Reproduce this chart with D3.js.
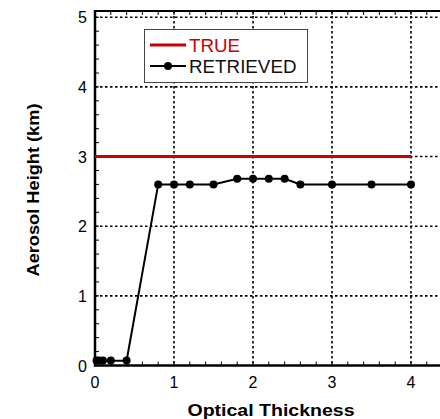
<!DOCTYPE html>
<html>
<head>
<meta charset="utf-8">
<script src="https://cdn.jsdelivr.net/npm/d3@7"></script>
<style>
  body { margin: 0; background: #fff; }
  text { font-family: "Liberation Sans", Arial, sans-serif; }
</style>
</head>
<body>
<div id="chart"></div>
<script>
const WIDTH = 440;
const HEIGHT = 419;
const MARGIN = { top: 11, bottom: 53, left: 95, right: 0 };

// data
const trueX = [0, 4];
const trueY = [3, 3];
const retrievedX = [0.02, 0.05, 0.1, 0.2, 0.4, 0.8, 1.0, 1.2, 1.5, 1.8, 2.0, 2.2, 2.4, 2.6, 3.0, 3.5, 4.0];
const retrievedY = [0.07, 0.07, 0.07, 0.07, 0.07, 2.6, 2.6, 2.6, 2.6, 2.68, 2.68, 2.68, 2.68, 2.6, 2.6, 2.6, 2.6];
const xTicks = [0, 1, 2, 3, 4];
const yTicks = [0, 1, 2, 3, 4, 5];
const legendLabels = ['TRUE', 'RETRIEVED'];

const svg = d3.select('#chart')
  .append('svg')
  .attr('width', WIDTH)
  .attr('height', HEIGHT)

const x = d3.scaleLinear()
  .domain([0, 4.5])
  .range([MARGIN.left, MARGIN.left + 4.5 * 79])

const y = d3.scaleLinear()
  .domain([0, 5.09])
  .range([HEIGHT - MARGIN.bottom - 0.5, MARGIN.top])

const x0 = x(0), x1 = WIDTH + 5
const y0 = y(0), y1 = y(5.09)

// dotted grid
const grid = svg.append('g')
  .attr('stroke', '#000')
  .attr('stroke-width', 1.6)
  .attr('stroke-dasharray', '2.5,2.5')

grid.selectAll('.hg')
  .data(yTicks.filter(d => d > 0))
  .join('line')
  .attr('x1', x0).attr('x2', x1)
  .attr('y1', d => y(d)).attr('y2', d => y(d))

grid.selectAll('.vg')
  .data(xTicks.filter(d => d > 0))
  .join('line')
  .attr('x1', d => x(d)).attr('x2', d => x(d))
  .attr('y1', y1).attr('y2', y0)

// minor ticks (inward)
const minorX = d3.range(0, 4.6, 0.2)
const minorY = d3.range(0, 5.01, 0.2)
const ticks = svg.append('g').attr('stroke', '#000').attr('stroke-width', 1)

ticks.selectAll('.bt')
  .data(minorX)
  .join('line')
  .attr('x1', d => x(d)).attr('x2', d => x(d))
  .attr('y1', y0).attr('y2', y0 - 4)

ticks.selectAll('.tt')
  .data(minorX)
  .join('line')
  .attr('x1', d => x(d)).attr('x2', d => x(d))
  .attr('y1', y1).attr('y2', y1 + 4)

ticks.selectAll('.lt')
  .data(minorY)
  .join('line')
  .attr('x1', x0).attr('x2', x0 + 4)
  .attr('y1', d => y(d)).attr('y2', d => y(d))

// frame
svg.append('line')
  .attr('x1', x0).attr('x2', x1).attr('y1', y1).attr('y2', y1)
  .attr('stroke', '#000').attr('stroke-width', 2)
svg.append('line')
  .attr('x1', x0).attr('x2', x1).attr('y1', y0).attr('y2', y0)
  .attr('stroke', '#000').attr('stroke-width', 2.5)
svg.append('line')
  .attr('x1', x0).attr('x2', x0).attr('y1', y1 - 1).attr('y2', y0 + 1.25)
  .attr('stroke', '#000').attr('stroke-width', 2.5)

// TRUE line
const trueData = trueX.map((d, i) => [d, trueY[i]])
svg.append('path')
  .datum(trueData)
  .attr('fill', 'none')
  .attr('stroke', '#cc0000')
  .attr('stroke-width', 3)
  .attr('d', d3.line().x(d => x(d[0])).y(d => y(d[1])))

// RETRIEVED line + markers
const retData = retrievedX.map((d, i) => [d, retrievedY[i]])
svg.append('path')
  .datum(retData)
  .attr('fill', 'none')
  .attr('stroke', '#000')
  .attr('stroke-width', 2)
  .attr('d', d3.line().x(d => x(d[0])).y(d => y(d[1])))

svg.selectAll('.pt')
  .data(retData)
  .join('circle')
  .attr('cx', d => x(d[0]))
  .attr('cy', d => y(d[1]))
  .attr('r', 4)
  .attr('fill', '#000')

// tick labels
svg.selectAll('.xl')
  .data(xTicks)
  .join('text')
  .attr('x', d => x(d))
  .attr('y', y0 + 22)
  .attr('text-anchor', 'middle')
  .attr('font-size', 16)
  .text(d => d)

svg.selectAll('.yl')
  .data(yTicks)
  .join('text')
  .attr('x', x0 - 8)
  .attr('y', d => y(d) + 6)
  .attr('text-anchor', 'end')
  .attr('font-size', 16)
  .text(d => d)

// axis titles
svg.append('text')
  .attr('x', 271)
  .attr('y', 416)
  .attr('text-anchor', 'middle')
  .attr('font-size', 16)
  .attr('font-weight', 'bold')
  .attr('textLength', 167)
  .attr('lengthAdjust', 'spacingAndGlyphs')
  .text('Optical Thickness')

svg.append('text')
  .attr('transform', 'translate(39,190) rotate(-90)')
  .attr('text-anchor', 'middle')
  .attr('font-size', 16)
  .attr('font-weight', 'bold')
  .attr('textLength', 173)
  .attr('lengthAdjust', 'spacingAndGlyphs')
  .text('Aerosol Height (km)')

// legend
const legend = svg.append('g')
legend.append('rect')
  .attr('x', 144.5).attr('y', 29.5)
  .attr('width', 163).attr('height', 53)
  .attr('fill', '#fff')
  .attr('stroke', '#444')
  .attr('stroke-width', 1)

const legendColors = ['#cc0000', '#000']
const legendY = [45, 66]
legendLabels.forEach((label, i) => {
  legend.append('line')
    .attr('x1', 150).attr('x2', 186)
    .attr('y1', legendY[i]).attr('y2', legendY[i])
    .attr('stroke', legendColors[i])
    .attr('stroke-width', i === 0 ? 3 : 2)
  if (i === 1) {
    legend.append('circle')
      .attr('cx', 168).attr('cy', legendY[i]).attr('r', 4).attr('fill', '#000')
  }
  legend.append('text')
    .attr('x', 189)
    .attr('y', legendY[i] + 6.5)
    .attr('font-size', 18.8)
    .attr('fill', legendColors[i] === '#000' ? '#111' : '#cc0000')
    .text(label)
})
</script>
</body>
</html>
